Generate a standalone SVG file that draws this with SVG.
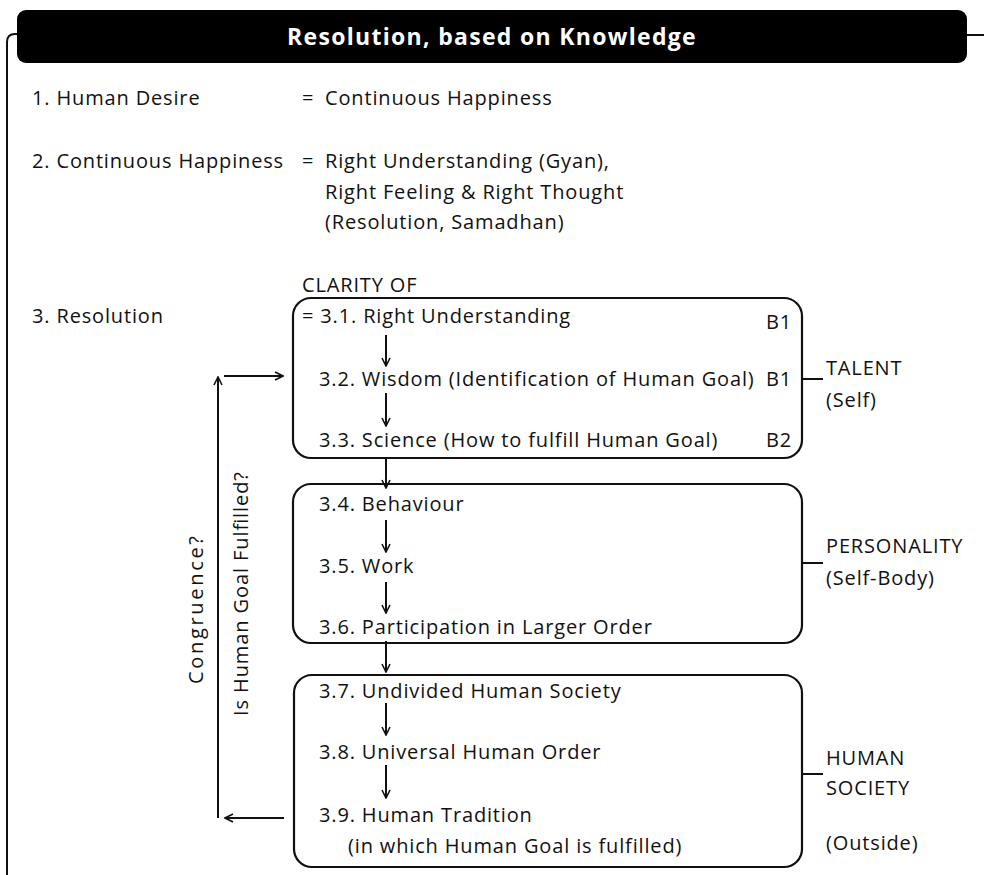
<svg xmlns="http://www.w3.org/2000/svg" width="984" height="875" viewBox="0 0 984 875">
  <style>
    text { font-family: "Open Sans", "Liberation Sans", sans-serif; font-size: 20px; letter-spacing: 0.85px; fill: #111; }
    .title { font-size: 23px; font-weight: bold; letter-spacing: 1.3px; fill: #fff; }
    .vert { letter-spacing: 0; }
    .box { fill: none; stroke: #111; stroke-width: 2.2; }
    .ln { fill: none; stroke: #111; stroke-width: 2; }
    .arr { fill: none; stroke: #111; stroke-width: 2; marker-end: url(#head); }
  </style>
  <defs>
    <marker id="head" viewBox="0 0 10 10" refX="9" refY="5" markerWidth="10" markerHeight="10" markerUnits="userSpaceOnUse" orient="auto">
      <path d="M1,1 L9,5 L1,9" fill="none" stroke="#111" stroke-width="1.6"/>
    </marker>
  </defs>

  <!-- outer frame and title bar -->
  <g id="frame">
    <path class="ln" d="M7,875 V42 Q7,34 15,34 H18"/>
    <path class="ln" d="M966,35 H984"/>
    <rect x="17" y="10" width="950" height="53" rx="9" fill="#000"/>
    <text class="title" x="492" y="45" text-anchor="middle">Resolution, based on Knowledge</text>
  </g>

  <!-- statements 1 and 2 -->
  <g id="statements">
    <text x="32" y="105">1.  Human Desire</text>
    <text x="302" y="105">=</text>
    <text x="325" y="105">Continuous Happiness</text>
    <text x="32" y="168">2.  Continuous Happiness</text>
    <text x="302" y="168">=</text>
    <text x="325" y="168">Right Understanding (Gyan),</text>
    <text x="325" y="199">Right Feeling &amp; Right Thought</text>
    <text x="325" y="229">(Resolution, Samadhan)</text>
    <text x="32" y="323">3. Resolution</text>
    <text x="302" y="292">CLARITY OF</text>
  </g>

  <!-- talent block -->
  <g id="talent">
    <rect class="box" x="293" y="298" width="509" height="160" rx="18"/>
    <text x="302" y="323">= 3.1. Right Understanding</text>
    <text x="319" y="386">3.2. Wisdom (Identification of Human Goal)</text>
    <text x="319" y="447">3.3. Science (How to fulfill Human Goal)</text>
    <text x="766" y="329">B1</text>
    <text x="766" y="386">B1</text>
    <text x="766" y="447">B2</text>
    <text x="826" y="375">TALENT</text>
    <text x="826" y="407">(Self)</text>
  </g>

  <!-- personality block -->
  <g id="personality">
    <rect class="box" x="293" y="484" width="509" height="159" rx="18"/>
    <text x="319" y="511">3.4. Behaviour</text>
    <text x="319" y="573">3.5. Work</text>
    <text x="319" y="634">3.6. Participation in Larger Order</text>
    <text x="826" y="553">PERSONALITY</text>
    <text x="826" y="585">(Self-Body)</text>
  </g>

  <!-- human society block -->
  <g id="society">
    <rect class="box" x="294" y="675" width="508" height="192" rx="18"/>
    <text x="319" y="698">3.7. Undivided Human Society</text>
    <text x="319" y="759">3.8. Universal Human Order</text>
    <text x="319" y="822">3.9. Human Tradition</text>
    <text x="348" y="853">(in which Human Goal is fulfilled)</text>
    <text x="826" y="765">HUMAN</text>
    <text x="826" y="795">SOCIETY</text>
    <text x="826" y="850">(Outside)</text>
  </g>

  <!-- feedback loop labels -->
  <g id="loop-labels">
    <text class="vert" transform="translate(203,684) rotate(-90)" textLength="148" lengthAdjust="spacing">Congruence?</text>
    <text class="vert" transform="translate(248,716) rotate(-90)" textLength="244" lengthAdjust="spacing">Is Human Goal Fulfilled?</text>
  </g>

  <!-- connectors -->
  <g id="connectors">
    <path class="arr" d="M386,335 V366"/>
    <path class="arr" d="M386,393 V426"/>
    <path class="arr" d="M386,457 V488"/>
    <path class="arr" d="M386,520 V552"/>
    <path class="arr" d="M386,582 V613"/>
    <path class="arr" d="M386,641 V672"/>
    <path class="arr" d="M386,703 V735"/>
    <path class="arr" d="M386,765 V798"/>
    <path class="ln" d="M802,379 H823"/>
    <path class="ln" d="M802,563 H823"/>
    <path class="ln" d="M802,774 H823"/>
    <path class="arr" d="M218,818 V377"/>
    <path class="arr" d="M224,376 H283"/>
    <path class="arr" d="M284,818 H225"/>
  </g>
</svg>
